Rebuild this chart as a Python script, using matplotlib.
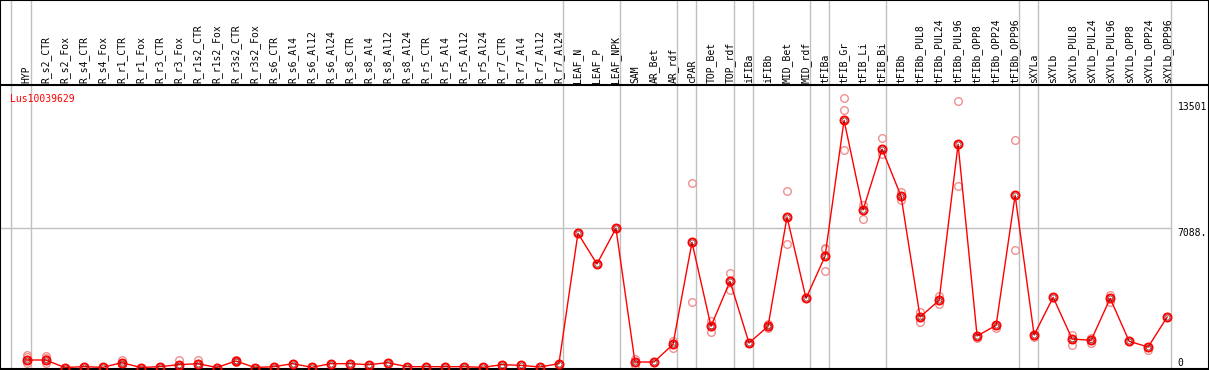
import matplotlib
matplotlib.use('Agg')
import matplotlib.pyplot as plt
import numpy as np

# --- Dados do gráfico ---
gene_id = 'Lus10039629'

amostras = ['HYP',
            'R_s2_CTR', 'R_s2_Fox', 'R_s4_CTR', 'R_s4_Fox', 'R_r1_CTR', 'R_r1_Fox',
            'R_r3_CTR', 'R_r3_Fox', 'R_r1s2_CTR', 'R_r1s2_Fox', 'R_r3s2_CTR', 'R_r3s2_Fox',
            'R_s6_CTR', 'R_s6_Al4', 'R_s6_Al12', 'R_s6_Al24', 'R_s8_CTR', 'R_s8_Al4',
            'R_s8_Al12', 'R_s8_Al24', 'R_r5_CTR', 'R_r5_Al4', 'R_r5_Al12', 'R_r5_Al24',
            'R_r7_CTR', 'R_r7_Al4', 'R_r7_Al12', 'R_r7_Al24',
            'LEAF_N', 'LEAF_P', 'LEAF_NPK', 'SAM', 'AR_Bet', 'AR_rdf', 'cPAR',
            'TOP_Bet', 'TOP_rdf', 'iFIBa', 'iFIBb', 'MID_Bet', 'MID_rdf', 'tFIBa',
            'tFIB_Gr', 'tFIB_Li', 'tFIB_Bi', 'tFIBb', 'tFIBb_PUL8', 'tFIBb_PUL24',
            'tFIBb_PUL96', 'tFIBb_OPP8', 'tFIBb_OPP24', 'tFIBb_OPP96', 'sXYLa',
            'sXYLb', 'sXYLb_PUL8', 'sXYLb_PUL24', 'sXYLb_PUL96', 'sXYLb_OPP8',
            'sXYLb_OPP24', 'sXYLb_OPP96']

medias = [381,
          381, 0, 42, 8, 245, 0, 42, 144, 195, 0, 330, 0,
          42, 195, 8, 195, 195, 144, 245, 42, 42, 42, 42, 8, 144, 110, 25, 195,
          6819, 5259, 7073, 279, 279, 1178, 6361,
          2093, 4380, 1245, 2093, 7647, 3516, 5650,
          12561, 8003, 11100, 8699, 2566, 3415, 11341, 1601, 2144, 8750, 1651,
          3567, 1448, 1382, 3516, 1331, 1042, 2566]

replicatas = [[635, 510, 213],
              [600, 460, 250], [], [], [], [380, 120], [], [], [381, 20], [381, 50], [], [400, 290], [],
              [], [], [], [], [], [], [], [], [], [], [], [], [], [], [], [],
              [], [], [], [417, 112], [], [1362, 991], [9375, 3313],
              [2378, 1804], [4802, 3923], [1245], [2200, 1990], [8953, 6291], [], [6088, 6021, 4888],
              [13679, 13069, 11037], [8257, 7530], [11646, 10849], [8902, 8511], [2820, 2297],
              [3633, 3211], [13526, 9207], [1520], [2000], [11545, 5955], [1550],
              [], [1667, 1143], [1500, 1230], [3684, 3350], [], [889], []]

# separadores de grupo (depois destas colunas)
separadores = [0, 1, 29, 32, 35, 36, 38, 39, 42, 43, 46, 53, 54, 61]

ytick_vals = [13501, 7088, 0]
ytick_labels = ['13501', '7088.', '0']

# --- Layout em pixels ---
W, H = 1209, 370
topo_plot = 85
base_plot = 369
x_min, x_max = -0.405, 63.2
y_min, y_max = -76, 14355

fig = plt.figure(figsize=(W / 100, H / 100), dpi=100)
ax_head = fig.add_axes([0, (H - topo_plot) / H, 1, topo_plot / H])
ax = fig.add_axes([0, (H - base_plot) / H, 1, (base_plot - topo_plot) / H])

x = np.arange(1, len(amostras) + 1)

for a in (ax_head, ax):
    a.set_xlim(x_min, x_max)
    a.set_xticks([])
    a.set_yticks([])
    for s in a.spines.values():
        s.set_color('black')
        s.set_linewidth(1.5)
    for sep in separadores:
        a.axvline(sep + 0.2, color='#c0c0c0', lw=1, zorder=0)
ax_head.spines['bottom'].set_visible(False)
ax_head.set_ylim(0, 1)

# rótulos das amostras (verticais)
for xi, nome in zip(x, amostras):
    ax_head.text(xi, 0.02, nome, rotation=90, ha='center', va='bottom',
                 family='DejaVu Sans Mono', fontsize=7)

ax.set_ylim(y_min, y_max)
ax.plot([x_min, 61.2], [7088, 7088], color='#c0c0c0', lw=1, zorder=0)

# replicatas
for xi, reps in zip(x, replicatas):
    if reps:
        ax.plot([xi] * len(reps), reps, linestyle='None', marker='o', markersize=5.5,
                markerfacecolor='none', markeredgecolor='#f09090', markeredgewidth=1, zorder=2)

# linha das médias
ax.plot(x, medias, color='red', lw=1, zorder=3)
ax.plot(x, medias, linestyle='None', marker='o', markersize=5.8, markerfacecolor='none',
        markeredgecolor='red', markeredgewidth=1.4, zorder=4)
ax.plot(x, medias, linestyle='None', marker='o', markersize=3.6, markerfacecolor='none',
        markeredgecolor='#400000', markeredgewidth=0.4, zorder=5)

# rótulos do eixo y (à direita)
for val, lab in zip(ytick_vals, ytick_labels):
    va = 'bottom' if val == 0 else 'top'
    ax.text(61.55, val, lab, ha='left', va=va, family='DejaVu Sans Mono', fontsize=7)

ax.text(0.008, 0.97, gene_id, transform=ax.transAxes, ha='left', va='top',
        color='red', family='DejaVu Sans Mono', fontsize=7)

fig.savefig('out.png', dpi=100)
